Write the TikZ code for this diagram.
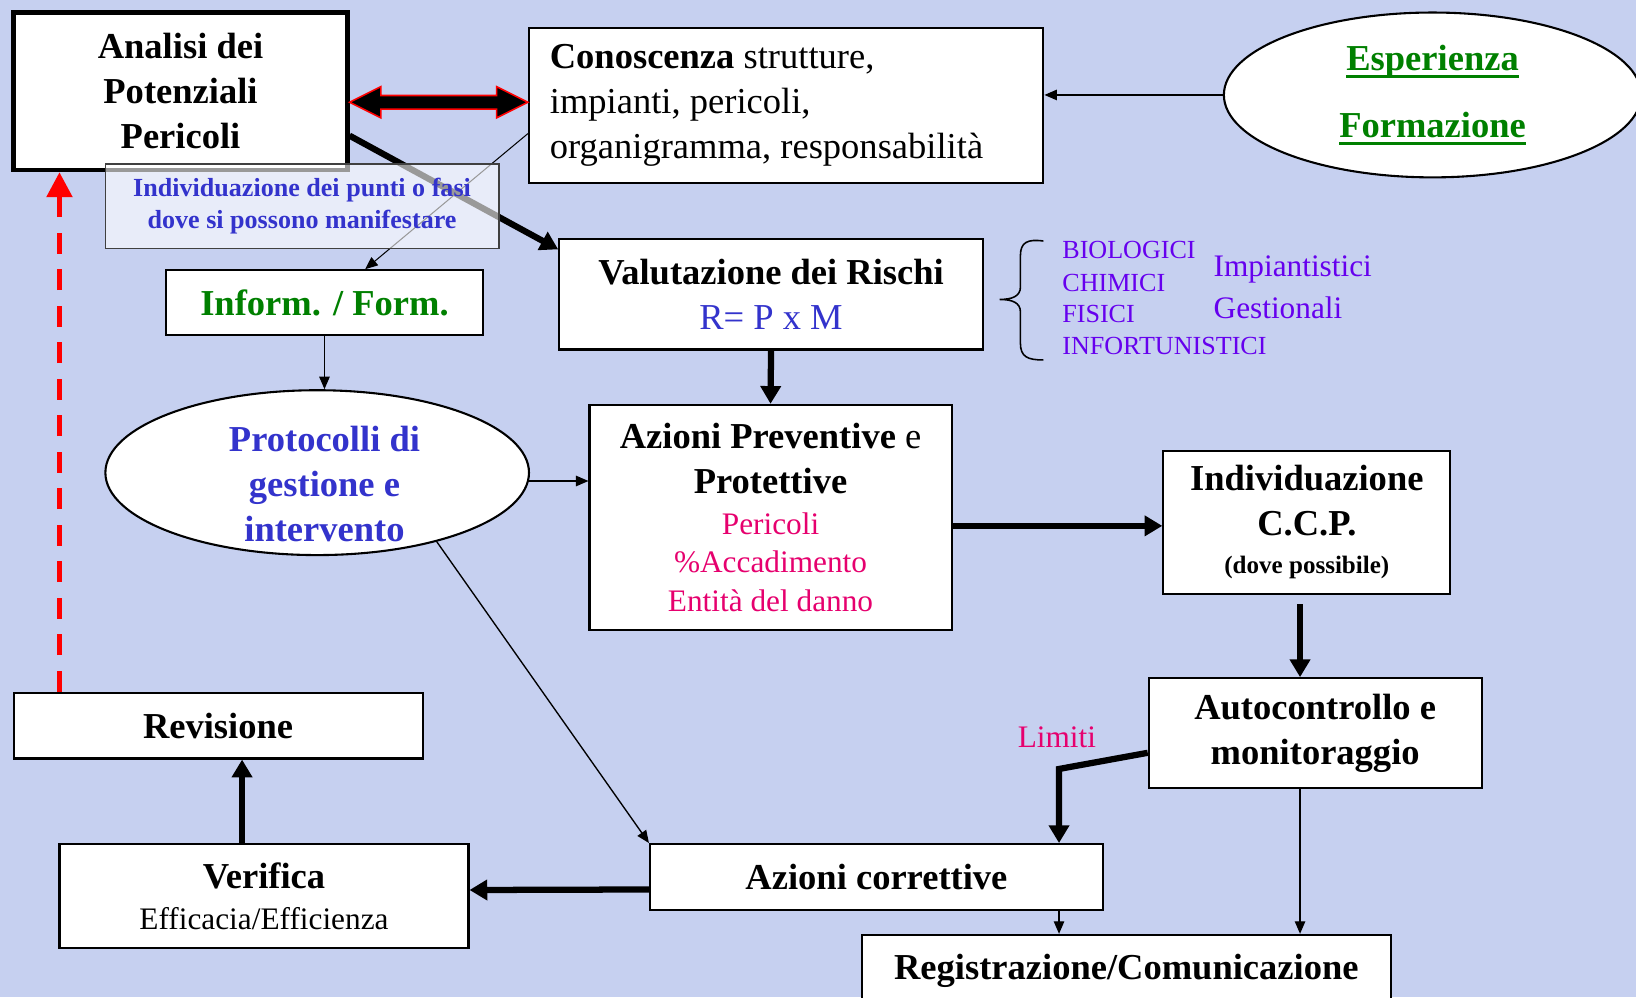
\documentclass[tikz,border=0pt]{standalone}
\usepackage{fontspec}
\setmainfont{Liberation Serif}
\usepackage{tikz}
\usetikzlibrary{calc}
\usetikzlibrary{shapes,arrows.meta}
\definecolor{ColorBg}{RGB}{198,208,240}
\definecolor{ColorBlue}{RGB}{51,51,204}
\definecolor{ColorGreen}{RGB}{0,128,0}
\definecolor{ColorPink}{RGB}{230,0,110}
\definecolor{ColorViolet}{RGB}{102,0,238}
\newcommand{\thickul}[1]{\setbox0\hbox{#1}\rlap{\copy0}\raisebox{-7pt}{\rule{\wd0}{3pt}}}
\newcommand{\pinktxt}[1]{{\color{ColorPink}\mdseries\fontsize{30}{37}\selectfont #1}}

\begin{document}
\begin{tikzpicture}[x=1pt,y=-1pt,
	box/.style={rectangle, draw=black, line width=2pt, fill=white, inner sep=0pt, align=center, font=\fontsize{35}{43}\selectfont\bfseries},
	oval/.style={ellipse, draw=black, line width=2pt, fill=white, inner sep=0pt},
	post/.style={-{Triangle[length=12pt,width=10pt]}, line width=1.3pt},
	heavy/.style={-{Triangle[length=17pt,width=19pt]}, line width=6pt},
	feedback/.style={-{Triangle[length=24pt,width=24pt]}, line width=5pt, draw=red, dash pattern=on 20pt off 15pt},
	dbl/.style={fill=black, draw=red, line width=1.5pt},
	risk/.style={anchor=west, text=ColorViolet, inner sep=0pt}]
	
	\useasboundingbox (0,0) rectangle (1568,956);
	\fill[ColorBg] (0,0) rectangle (1568,956);
	\clip (0,0) rectangle (1568,956);
	
	% Top row
	\node[box, line width=4pt, minimum width=320, minimum height=151] (ana) at (173,87.5) {Analisi dei\\Potenziali\\Pericoli};
	\node[box, minimum width=493, minimum height=148, font=\fontsize{35}{43}\selectfont, align=flush left, text width=453] (con) at (753.5,101) {\textbf{Conoscenza} strutture,\\impianti, pericoli,\\organigramma, responsabilità};
	\node[oval, minimum width=400, minimum height=158, align=center, text=ColorGreen, font=\fontsize{35}{43}\selectfont\bfseries] (esp) at (1373,91) {\thickul{Esperienza}\\[21pt]\thickul{Formazione}};
	
	% Left column
	\node[box, minimum width=304, minimum height=62, text=ColorGreen] (inf) at (311,290) {Inform. / Form.};
	\node[oval, minimum width=406, minimum height=158] (pro) at (304,453) {};
	\node[align=center, text=ColorBlue, font=\fontsize{35}{43}\selectfont\bfseries] (protxt) at ($(pro.center)+(7,11)$) {Protocolli di\\gestione e\\intervento};
	\node[box, minimum width=392, minimum height=63] (rev) at (209,695.5) {Revisione};
	\node[box, minimum width=392, minimum height=100] (ver) at (253,859) {Verifica\\[-4pt]{\mdseries\fontsize{30}{37}\selectfont Efficacia/Efficienza}};
	
	% Middle and right
	\node[box, minimum width=406, minimum height=106] (val) at (739,282) {Valutazione dei Rischi\\{\color{ColorBlue}\mdseries R= P x M}};
	\node[box, minimum width=347, minimum height=216] (apr) at (738.5,496) {Azioni Preventive {\mdseries e}\\Protettive\\[-4pt]\pinktxt{Pericoli}\\[-6pt]\pinktxt{\%Accadimento}\\[-6pt]\pinktxt{Entità del danno}};
	\node[box, minimum width=275, minimum height=137] (ccp) at (1252.5,500.5) {Individuazione\\C.C.P.\\[-6pt]{\fontsize{24}{30}\selectfont (dove possibile)}};
	\node[box, minimum width=319, minimum height=105] (auc) at (1260.5,702.5) {Autocontrollo e\\monitoraggio};
	\node[box, minimum width=434, minimum height=63] (cor) at (840,840.5) {Azioni correttive};
	\node[box, minimum width=507, minimum height=69] (reg) at (1079.5,930.5) {Registrazione/Comunicazione};
	
	% Risk types
	\draw[line width=1.5pt] (1000,231) .. controls (985,229) and (978,232) .. (978,245) -- (978,275) .. controls (978,284) and (970,287) .. (958,287) .. controls (970,287) and (978,290) .. (978,299) -- (978,329) .. controls (978,342) and (985,345) .. (1000,345);
	\node[risk, font=\fontsize{25}{30}\selectfont] (bio) at (1018,240) {BIOLOGICI};
	\node[risk, font=\fontsize{25}{30}\selectfont] (chi) at (1018,271) {CHIMICI};
	\node[risk, font=\fontsize{25}{30}\selectfont] (fis) at (1018,301) {FISICI};
	\node[risk, font=\fontsize{25}{30}\selectfont] (inr) at (1018,332) {INFORTUNISTICI};
	\node[risk, font=\fontsize{30}{35}\selectfont] (imp) at (1163,258) {Impiantistici};
	\node[risk, font=\fontsize{30}{35}\selectfont] (ges) at (1163,295) {Gestionali};
	
	% Links
	\coordinate (dl) at (ana.east |- 0,98);
	\coordinate (dr) at (con.west |- 0,98);
	\path[dbl] (dl) -- ++(30,-15) -- ++(0,8.5) -- ($(dr)+(-30,-6.5)$) -- ++(0,-8.5) -- (dr) -- ++(-30,15) -- ++(0,-8.5) -- ($(dl)+(30,6.5)$) -- ++(0,8.5) -- cycle;
	\draw[post] (esp.west) -- (con.east |- esp.west);
	\draw[heavy] ($(ana.south east)+(0,-35)$) -- ($(val.north west)+(0,11)$);
	\draw[post, line width=1pt] ($(con.west)+(0,27)$) -- ($(inf.north)+(39,0)$);
	\draw[post] (inf.south) -- (inf.south |- pro.north);
	\draw[post] ($(pro.east)+(-1,8)$) -- ($(pro.east -| apr.west)+(0,8)$);
	\draw[post] (pro.-30) -- (cor.north west);
	\draw[heavy] (val.south) -- (apr.north);
	\draw[heavy] ($(apr.east)+(0,8)$) -- ($(apr.east -| ccp.west)+(0,8)$);
	\draw[heavy] ($(ccp.south)+(-6.5,9)$) -- ($(auc.north)+(-14.5,0)$);
	\coordinate (lim) at (1015,737);
	\draw[heavy] ($(auc.west)+(0,19)$) -- (lim) -- (lim |- cor.north);
	\node[text=ColorPink, font=\fontsize{30}{36}\selectfont] (limtxt) at (1013,707) {Limiti};
	\draw[post] (1246,0 |- auc.south) -- (1246,0 |- reg.north);
	\draw[post] (1015,0 |- cor.south) -- (1015,0 |- reg.north);
	\draw[heavy] ($(cor.west)+(0,12)$) -- ($(ver.east)+(0,-6)$);
	\draw[heavy] (232,0 |- ver.north) -- (232,0 |- rev.south);
	\draw[feedback] (57,0 |- rev.north) -- (57,0 |- ana.south);
	
	% Note over the links
	\node[box, font=\fontsize{25}{30}\selectfont\bfseries, text=ColorBlue, draw=black!75, line width=1.5pt, fill opacity=0.6, text opacity=1, minimum width=377, minimum height=81] (pts) at (289.5,197.5) {Individuazione dei punti o fasi\\dove si possono manifestare};
	
\end{tikzpicture}
\end{document}
